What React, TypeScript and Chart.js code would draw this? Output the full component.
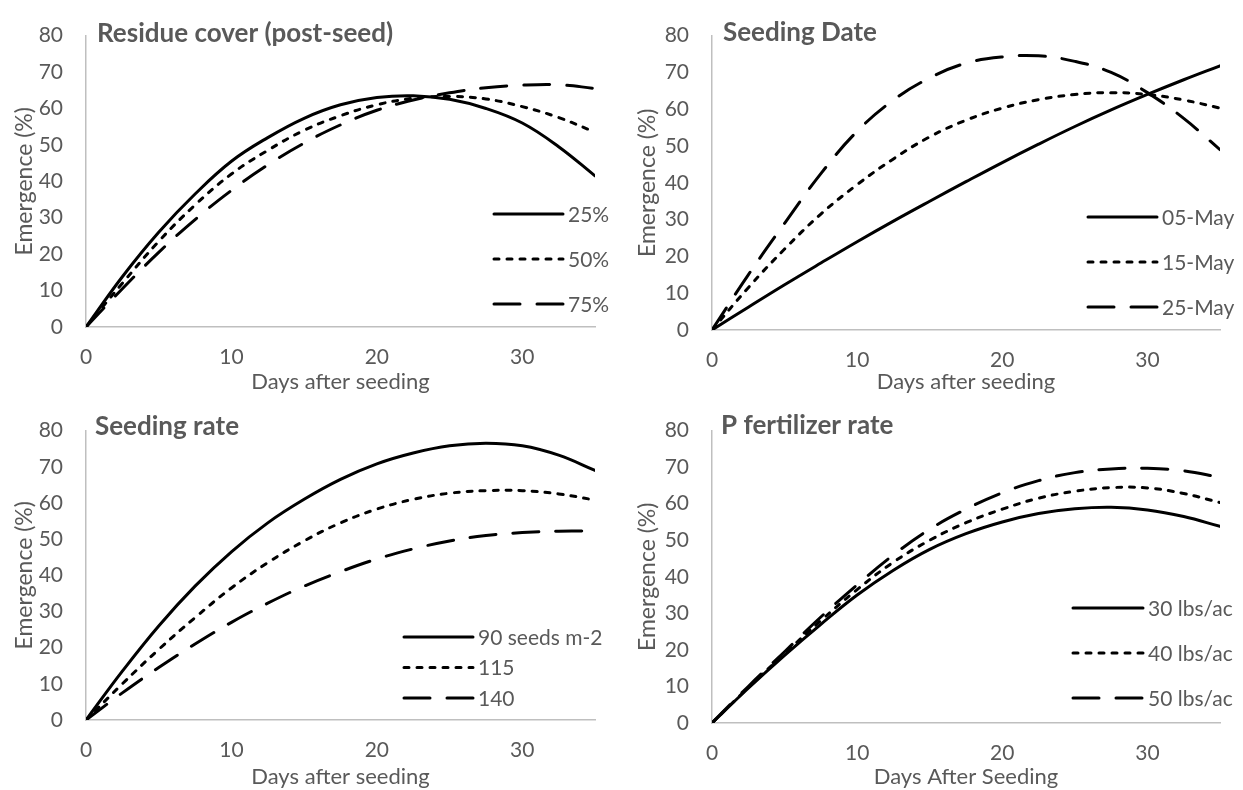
import React, { useEffect, useRef } from "react";
import { Chart, registerables } from "chart.js";

Chart.register(...registerables);

// ---------- data ----------
const DAYS = [0, 2.5, 5, 7.5, 10, 12.5, 15, 17.5, 20, 22.5, 25, 27.5, 30, 32.5, 35];
const X_TICKS = [0, 10, 20, 30];
const Y_TICKS = [0, 10, 20, 30, 40, 50, 60, 70, 80];

const RESIDUE_LABELS = ["25%", "50%", "75%"];
const RESIDUE_25 = [0, 13.8, 26, 36.5, 45.5, 52, 57.3, 61, 63, 63.5, 62.5, 60, 56, 49.5, 41.5];
const RESIDUE_50 = [0, 12, 23.5, 33.5, 42, 48.5, 54, 58, 61, 62.8, 63.3, 62.6, 60.5, 57.5, 53.5];
const RESIDUE_75 = [0, 10.5, 20.5, 29.5, 37.5, 44.5, 50.5, 55.5, 59.5, 62.3, 64.3, 65.7, 66.4, 66.5, 65.5];

const DATE_LABELS = ["05-May", "15-May", "25-May"];
const DATE_05 = [0, 6.2, 12.3, 18.2, 24, 29.6, 35, 40.3, 45.5, 50.5, 55.3, 59.8, 64, 68, 71.8];
const DATE_15 = [0, 11.5, 22, 31.5, 39.5, 46.5, 52.5, 57, 60.3, 62.6, 64, 64.5, 64, 62.5, 60.3];
const DATE_25 = [0, 15, 29, 42.5, 54, 62.5, 68.5, 72.5, 74.2, 74.5, 73, 70, 64.5, 57.5, 49];

const RATE_LABELS = ["90 seeds m-2", "115", "140"];
const RATE_90 = [0, 13.5, 26, 37, 46.5, 54.5, 61, 66.5, 70.8, 73.8, 75.8, 76.5, 75.8, 73.2, 69];
const RATE_115 = [0, 10, 19.5, 28.3, 36.5, 43.5, 49.5, 54.5, 58.3, 61, 62.7, 63.4, 63.4, 62.5, 60.8];
const RATE_140 = [0, 7.5, 14.5, 21, 27, 32.3, 37, 41, 44.5, 47.3, 49.5, 51, 51.8, 52.2, 52.2];

const P_LABELS = ["30 lbs/ac", "40 lbs/ac", "50 lbs/ac"];
const P_30 = [0, 9.5, 18.5, 27, 35, 41.8, 47.5, 51.8, 55, 57.3, 58.6, 59, 58.3, 56.5, 53.8];
const P_40 = [0, 9.7, 19, 28, 36.5, 44, 50, 54.8, 58.5, 61.5, 63.4, 64.4, 64.3, 62.8, 60.3];
const P_50 = [0, 10, 19.5, 29, 37.8, 46, 53, 58.5, 63, 66.3, 68.5, 69.5, 69.7, 69, 67.2];

// ---------- styles ----------
const FONT = "Lato, 'Open Sans', sans-serif";
const TEXT = "#595959";
const AXIS = "#BFBFBF";
const DASHES = [[], [5, 8], [26, 17]];

type Layout = {
  left: number; top: number; w: number; h: number;
  area: { l: number; t: number; r: number; b: number };
  yTitlePad: number;
  titleX: number; titleBase: number;
  legX: number; legY: number; legGap: number; legLen: number;
};

const decorPlugin = {
  id: "panelDecor",
  afterDraw(chart: any, _args: any, opts: any) {
    const ctx = chart.ctx;
    ctx.save();
    ctx.fillStyle = TEXT;
    ctx.font = `bold 26px ${FONT}`;
    ctx.textAlign = "left";
    ctx.textBaseline = "alphabetic";
    ctx.fillText(opts.title, opts.titleX, opts.titleBase);
    chart.data.datasets.forEach((ds: any, i: number) => {
      const y = opts.legY + i * opts.legGap;
      ctx.beginPath();
      ctx.setLineDash(ds.borderDash || []);
      ctx.lineCap = ds.borderCapStyle || "butt";
      ctx.lineWidth = ds.borderWidth;
      ctx.strokeStyle = ds.borderColor;
      ctx.moveTo(opts.legX, y);
      ctx.lineTo(opts.legX + opts.legLen, y);
      ctx.stroke();
      ctx.setLineDash([]);
      ctx.font = `21px ${FONT}`;
      ctx.textBaseline = "middle";
      ctx.fillStyle = TEXT;
      ctx.fillText(ds.label, opts.legX + opts.legLen + 5, y + 1);
    });
    ctx.restore();
  },
};

function Panel(props: {
  layout: Layout; title: string; xTitle: string;
  labels: string[]; series: number[][];
}) {
  const ref = useRef<HTMLCanvasElement>(null);
  const { layout, title, xTitle, labels, series } = props;
  useEffect(() => {
    if (!ref.current) return;
    const a = layout.area;
    const chart = new Chart(ref.current, {
      type: "line",
      data: {
        datasets: series.map((vals, i) => ({
          label: labels[i],
          data: DAYS.map((d, j) => ({ x: d, y: vals[j] })),
          borderColor: "#000000",
          borderWidth: 3,
          borderDash: DASHES[i],
          borderCapStyle: "round",
          pointRadius: 0,
          tension: 0.4,
          fill: false,
        })),
      },
      options: {
        animation: false,
        responsive: false,
        events: [],
        layout: { padding: { left: 0, top: a.t, right: layout.w - a.r, bottom: 0 } },
        plugins: {
          legend: { display: false },
          tooltip: { enabled: false },
          panelDecor: {
            title,
            titleX: layout.titleX,
            titleBase: layout.titleBase,
            legX: layout.legX,
            legY: layout.legY,
            legGap: layout.legGap,
            legLen: layout.legLen,
          },
        } as any,
        scales: {
          x: {
            type: "linear",
            min: 0,
            max: 35,
            afterBuildTicks: (s: any) => { s.ticks = X_TICKS.map((v) => ({ value: v })); },
            afterFit: (s: any) => { s.height = layout.h - a.b; },
            grid: { display: false, drawTicks: false },
            border: { display: true, color: AXIS, width: 1.5 },
            ticks: { color: TEXT, font: { family: FONT, size: 21 }, padding: 18, maxRotation: 0 },
            title: {
              display: true, text: xTitle, color: TEXT,
              font: { family: FONT, size: 22 }, padding: { top: 0, bottom: 0 },
            },
          },
          y: {
            type: "linear",
            min: 0,
            max: 80,
            afterBuildTicks: (s: any) => { s.ticks = Y_TICKS.map((v) => ({ value: v })); },
            afterFit: (s: any) => { s.width = a.l; },
            grid: { display: false, drawTicks: false },
            border: { display: true, color: AXIS, width: 1.5 },
            ticks: { color: TEXT, font: { family: FONT, size: 21 }, padding: 23 },
            title: {
              display: true, text: "Emergence (%)", color: TEXT,
              font: { family: FONT, size: 23 }, padding: { top: layout.yTitlePad, bottom: 0 },
            },
          },
        },
      },
      plugins: [decorPlugin],
    } as any);
    return () => chart.destroy();
  }, []);
  return (
    <canvas
      ref={ref}
      width={layout.w}
      height={layout.h}
      style={{ position: "absolute", left: layout.left, top: layout.top, width: layout.w, height: layout.h }}
    />
  );
}

const L1: Layout = { left: 0, top: 0, w: 620, h: 395, area: { l: 86, t: 24, r: 595, b: 327 }, yTitlePad: 11,
  titleX: 97, titleBase: 42, legX: 494, legY: 214, legGap: 45, legLen: 69 };
const L2: Layout = { left: 620, top: 0, w: 623, h: 395, area: { l: 92, t: 24, r: 600, b: 330 }, yTitlePad: 14,
  titleX: 103, titleBase: 41, legX: 468, legY: 217, legGap: 45, legLen: 69 };
const L3: Layout = { left: 0, top: 395, w: 620, h: 395, area: { l: 86, t: 23, r: 595, b: 325 }, yTitlePad: 11,
  titleX: 95, titleBase: 40, legX: 404, legY: 242, legGap: 30.5, legLen: 69 };
const L4: Layout = { left: 620, top: 395, w: 623, h: 395, area: { l: 92, t: 23, r: 600, b: 328 }, yTitlePad: 14,
  titleX: 101, titleBase: 39, legX: 453, legY: 213, legGap: 45, legLen: 70 };

export default function App() {
  return (
    <div style={{ position: "absolute", left: 0, top: 0, width: 1243, height: 790, background: "#ffffff" }}>
      <Panel layout={L1} title="Residue cover (post-seed)" xTitle="Days after seeding"
        labels={RESIDUE_LABELS} series={[RESIDUE_25, RESIDUE_50, RESIDUE_75]} />
      <Panel layout={L2} title="Seeding Date" xTitle="Days after seeding"
        labels={DATE_LABELS} series={[DATE_05, DATE_15, DATE_25]} />
      <Panel layout={L3} title="Seeding rate" xTitle="Days after seeding"
        labels={RATE_LABELS} series={[RATE_90, RATE_115, RATE_140]} />
      <Panel layout={L4} title="P fertilizer rate" xTitle="Days After Seeding"
        labels={P_LABELS} series={[P_30, P_40, P_50]} />
    </div>
  );
}
